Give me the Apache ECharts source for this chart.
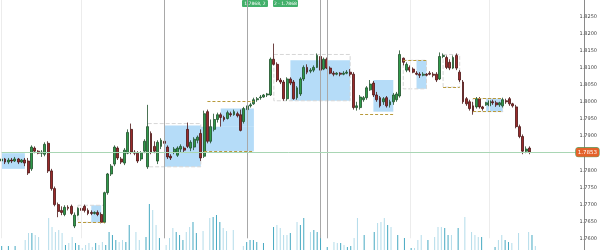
<!DOCTYPE html>
<html><head><meta charset="utf-8">
<script src="https://cdn.jsdelivr.net/npm/echarts@6/dist/echarts.min.js"></script>
<style>html,body{margin:0;padding:0;background:#fff}#c{width:600px;height:250px}</style>
</head><body><div id="c"></div>
<script>
const openP = [1.7827,1.7833,1.7824,1.7830,1.7827,1.7833,1.7824,1.7830,1.7827,1.7804,1.7865,1.7856,1.7850,1.7847,1.7879,1.7798,1.7746,1.7699,1.7682,1.7670,
1.7691,1.7694,1.7636,1.7668,1.7688,1.7694,1.7682,1.7676,1.7673,1.7676,1.7670,1.7647,1.7734,1.7789,1.7818,1.7865,1.7833,1.7821,1.7850,1.7920,
1.7853,1.7850,1.7833,1.7856,1.7810,1.7908,1.7870,1.7827,1.7870,1.7885,1.7868,1.7841,1.7853,1.7844,1.7862,1.7865,1.7920,1.7865,1.7868,1.7888,
1.7908,1.7841,1.7972,1.7885,1.7920,1.7949,1.7963,1.7955,1.7952,1.7966,1.7963,1.7966,1.7963,1.7943,1.7978,1.7989,1.7995,1.8007,1.8013,1.8015,
1.8021,1.8021,1.8126,1.8111,1.8065,1.8059,1.8010,1.8068,1.8059,1.8013,1.8024,1.8068,1.8102,1.8091,1.8094,1.8102,1.8134,1.8097,1.8126,1.8100,
1.8085,1.8082,1.8085,1.8082,1.8085,1.8088,1.8082,1.7984,1.7984,1.8007,1.8013,1.8036,1.8056,1.8021,1.8013,1.8001,1.8013,1.7992,1.8001,1.8007,
1.8018,1.8129,1.8094,1.8102,1.8097,1.8085,1.8082,1.8079,1.8082,1.8085,1.8082,1.8082,1.8068,1.8134,1.8131,1.8117,1.8100,1.8137,1.8088,1.8059,
1.8010,1.8001,1.7989,1.7986,1.8010,1.7986,1.7992,1.7989,1.8001,1.7998,1.7992,1.7989,1.8004,1.8010,1.7995,1.7986,1.7928,1.7899,1.7856,1.7865];
const closeP = [1.7833,1.7824,1.7830,1.7827,1.7833,1.7824,1.7830,1.7821,1.7792,1.7868,1.7856,1.7850,1.7853,1.7876,1.7798,1.7746,1.7699,1.7679,1.7676,1.7691,
1.7688,1.7673,1.7668,1.7688,1.7682,1.7682,1.7673,1.7673,1.7676,1.7670,1.7647,1.7734,1.7789,1.7812,1.7868,1.7836,1.7824,1.7859,1.7911,1.7853,
1.7850,1.7827,1.7850,1.7885,1.7928,1.7853,1.7856,1.7882,1.7888,1.7879,1.7839,1.7836,1.7862,1.7865,1.7870,1.7859,1.7870,1.7882,1.7891,1.7897,
1.7836,1.7966,1.7885,1.7928,1.7949,1.7963,1.7955,1.7949,1.7969,1.7963,1.7972,1.7960,1.7917,1.7981,1.7989,1.7992,1.8007,1.8010,1.8015,1.8021,
1.8024,1.8126,1.8111,1.8065,1.8059,1.8010,1.8068,1.8056,1.8010,1.8042,1.8068,1.8102,1.8088,1.8094,1.8102,1.8137,1.8094,1.8126,1.8100,1.8085,
1.8082,1.8085,1.8082,1.8085,1.8088,1.8082,1.7984,1.7989,1.8015,1.8013,1.8042,1.8053,1.8021,1.8007,1.7989,1.8010,1.7989,1.8001,1.8021,1.8024,
1.8140,1.8117,1.8111,1.8094,1.8088,1.8082,1.8079,1.8082,1.8079,1.8082,1.8079,1.8065,1.8134,1.8137,1.8102,1.8100,1.8131,1.8100,1.8065,1.8001,
1.7995,1.7981,1.7972,1.8010,1.7986,1.7981,1.7998,1.8004,1.7998,1.7992,1.7998,1.8007,1.8001,1.7995,1.7989,1.7928,1.7899,1.7856,1.7862,1.7853];
const lowP = [1.7821,1.7818,1.7818,1.7821,1.7824,1.7818,1.7821,1.7812,1.7786,1.7798,1.7850,1.7847,1.7839,1.7841,1.7792,1.7740,1.7694,1.7662,1.7668,1.7665,
1.7682,1.7668,1.7630,1.7665,1.7676,1.7676,1.7668,1.7668,1.7670,1.7665,1.7644,1.7644,1.7728,1.7783,1.7812,1.7830,1.7818,1.7815,1.7847,1.7847,
1.7844,1.7821,1.7827,1.7850,1.7804,1.7847,1.7850,1.7818,1.7862,1.7873,1.7833,1.7830,1.7847,1.7839,1.7853,1.7853,1.7865,1.7856,1.7859,1.7879,
1.7827,1.7836,1.7879,1.7879,1.7914,1.7940,1.7928,1.7943,1.7949,1.7957,1.7960,1.7955,1.7914,1.7937,1.7972,1.7984,1.7992,1.8001,1.8007,1.8013,
1.8015,1.8018,1.8108,1.8059,1.8053,1.8004,1.8004,1.8050,1.8007,1.8007,1.8018,1.8062,1.8082,1.8085,1.8088,1.8100,1.8091,1.8094,1.8097,1.8082,
1.8076,1.8079,1.8076,1.8079,1.8082,1.8076,1.7978,1.7975,1.7978,1.8001,1.8007,1.8033,1.8015,1.8001,1.7984,1.7992,1.7984,1.7984,1.7992,1.8001,
1.8013,1.8108,1.8088,1.8088,1.8085,1.8079,1.8071,1.8076,1.8076,1.8079,1.8073,1.8059,1.8065,1.8129,1.8097,1.8094,1.8097,1.8094,1.8059,1.7995,
1.7989,1.7975,1.7963,1.7981,1.7981,1.7975,1.7989,1.7986,1.7992,1.7986,1.7986,1.7984,1.7995,1.7989,1.7984,1.7923,1.7894,1.7847,1.7850,1.7847];
const highP = [1.7839,1.7836,1.7836,1.7836,1.7839,1.7836,1.7833,1.7836,1.7836,1.7873,1.7870,1.7859,1.7859,1.7882,1.7885,1.7804,1.7752,1.7705,1.7694,1.7697,
1.7697,1.7699,1.7676,1.7691,1.7697,1.7699,1.7688,1.7682,1.7679,1.7682,1.7676,1.7737,1.7792,1.7818,1.7873,1.7870,1.7839,1.7865,1.7920,1.7937,
1.7859,1.7856,1.7856,1.7891,1.7992,1.7914,1.7885,1.7888,1.7894,1.7891,1.7873,1.7847,1.7868,1.7870,1.7876,1.7870,1.7940,1.7888,1.7897,1.7902,
1.7920,1.7975,1.7978,1.7949,1.7966,1.7969,1.7969,1.7960,1.7975,1.7972,1.7978,1.7972,1.7978,1.7986,1.7995,1.7998,1.8013,1.8015,1.8021,1.8024,
1.8027,1.8131,1.8172,1.8117,1.8071,1.8065,1.8073,1.8073,1.8065,1.8047,1.8073,1.8108,1.8111,1.8100,1.8108,1.8143,1.8140,1.8131,1.8131,1.8105,
1.8091,1.8088,1.8088,1.8091,1.8094,1.8097,1.8088,1.8001,1.8021,1.8018,1.8047,1.8065,1.8062,1.8030,1.8018,1.8015,1.8018,1.8007,1.8027,1.8030,
1.8152,1.8131,1.8117,1.8108,1.8102,1.8091,1.8088,1.8088,1.8085,1.8091,1.8088,1.8088,1.8146,1.8143,1.8137,1.8126,1.8137,1.8143,1.8094,1.8065,
1.8015,1.8007,1.8001,1.8015,1.8015,1.7989,1.8001,1.8010,1.8007,1.8004,1.8001,1.8013,1.8010,1.8015,1.7998,1.7992,1.7934,1.7905,1.7870,1.7870];
const volume = [80,0,80,0,80,0,0,200,340,340,300,260,0,0,640,460,360,400,340,100,
140,260,140,100,40,100,140,60,140,100,160,100,360,300,200,160,200,160,500,0,
360,200,0,260,920,800,500,240,0,100,240,440,360,300,200,360,460,560,340,0,
380,0,640,660,700,560,440,380,0,400,0,0,80,160,200,200,160,0,140,0,
0,460,500,440,300,300,340,0,560,500,640,0,360,400,360,300,0,60,0,160,
140,140,100,60,80,240,640,0,300,0,0,360,540,560,640,500,460,0,300,0,
240,0,40,40,200,300,0,200,0,260,460,460,440,300,300,0,440,0,660,0,
360,300,260,260,0,0,0,60,200,300,200,160,140,0,340,0,0,360,300,80];
const totalSlots = 174;
const priceTicks = {min: 1.760, max: 1.830, step: 0.005};
// annotation zones: [fromIndex, toIndex, upperPrice, lowerPrice]
const blueZones = [[0,7,1.7850,1.7804],[27,30,1.7697,1.7647],[49,60,1.7931,1.7810],[60,76,1.7928,1.7856],[66,76,1.7981,1.7928],
  [87,105,1.8123,1.8004],[112,118,1.8065,1.7972],[125,128,1.8123,1.8039],[146,151,1.8010,1.7972]];
const outlineZones = [[23,31,1.7697,1.7647],[44,60,1.7937,1.7810],[82,105,1.8140,1.8004],[121,128,1.8123,1.8039],[133,138,1.8140,1.8044],[142,151,1.8010,1.7972]];
const levelLines = [[23,31,1.7647],[62,76,1.8004],[61,76,1.7856],[108,118,1.7963],[121,128,1.8123],[133,138,1.8044],[142,151,1.8010],[142,151,1.7972]];
const sessionLines = [49,74,96,98];
const gridLines = [0,24,123,147];
const topTags = ['1.7868, 2', '2 \u00b7 1.7868'];

const cats = Array.from({length: totalSlots}, (_, i) => String(i));
const candles = openP.map((o, i) => [o, closeP[i], lowP[i], highP[i]]);
const lastClose = closeP[closeP.length - 1];
const volData = volume.map((v, i) => ({value: v, itemStyle: {color: closeP[i] >= openP[i] ? '#46a9c2' : '#b3dcea'}}));

const chart = echarts.init(document.getElementById('c'), null, {renderer: 'canvas'});
const markAreaData = [];
blueZones.forEach(z => markAreaData.push([{xAxis: z[0], yAxis: z[2], itemStyle: {color: 'rgba(150,205,245,0.7)'}}, {xAxis: z[1], yAxis: z[3]}]));
outlineZones.forEach(z => markAreaData.push([{xAxis: z[0], yAxis: z[2], itemStyle: {color: 'rgba(0,0,0,0)', borderColor: '#d6d6d6', borderWidth: 1, borderType: 'dashed'}}, {xAxis: z[1], yAxis: z[3]}]));
const markLineData = [];
gridLines.forEach(i => markLineData.push({xAxis: i, lineStyle: {color: '#ececec', width: 1, type: 'solid'}, label: {show: false}}));
sessionLines.forEach(i => markLineData.push({xAxis: i, lineStyle: {color: '#a8a8a8', width: 1, type: 'solid'}, label: {show: false}}));
levelLines.forEach(l => markLineData.push([{coord: [l[0], l[2]], lineStyle: {color: '#b89a3c', width: 1, type: [3, 2]}, label: {show: false}}, {coord: [l[1], l[2]]}]));
markLineData.push([{coord: [0, lastClose], lineStyle: {color: '#a9d6b4', width: 1, type: 'solid'},
  label: {show: true, position: 'end', distance: 0, formatter: lastClose.toFixed(4), color: '#fff', fontSize: 5.5,
    fontFamily: 'DejaVu Sans', backgroundColor: '#e4622a', borderColor: '#3f9f5c', borderWidth: 0.5, padding: [1.5, 2], borderRadius: 2}},
  {coord: [totalSlots - 1, lastClose]}]);

chart.setOption({
  animation: false,
  backgroundColor: '#fff',
  grid: [
    {left: 0, right: 16, top: -3.1, height: 241.4},
    {left: 0, right: 16, bottom: 0, height: 50}
  ],
  xAxis: [
    {type: 'category', data: cats, gridIndex: 0, boundaryGap: true, axisLine: {show: false}, axisTick: {show: false}, axisLabel: {show: false}, splitLine: {show: false}},
    {type: 'category', data: cats, gridIndex: 1, boundaryGap: true, axisLine: {show: false}, axisTick: {show: false}, axisLabel: {show: false}, splitLine: {show: false}}
  ],
  yAxis: [
    {type: 'value', gridIndex: 0, position: 'right', min: priceTicks.min, max: priceTicks.max, interval: priceTicks.step,
      axisLine: {show: false}, axisTick: {show: false}, splitLine: {show: false},
      axisLabel: {show: true, margin: 2, fontSize: 5, color: '#444', fontFamily: 'DejaVu Sans', showMinLabel: true, showMaxLabel: false,
        formatter: v => Math.abs(v - 1.785) < 1e-6 ? '' : v.toFixed(4)}},
    {type: 'value', gridIndex: 1, min: 0, max: 1000, show: false}
  ],
  series: [
    {type: 'bar', xAxisIndex: 1, yAxisIndex: 1, data: volData, barWidth: 1, silent: true},
    {type: 'candlestick', xAxisIndex: 0, yAxisIndex: 0, data: candles, barWidth: 2.4,
      itemStyle: {color: '#2f9a4a', color0: '#9a2b2b', borderColor: '#1e4f2a', borderColor0: '#4a1414', borderWidth: 0.8},
      markArea: {silent: true, data: markAreaData, z: -1},
      markLine: {silent: true, symbol: ['none', 'none'], data: markLineData}
    }
  ],
  graphic: [
    {type: 'line', shape: {x1: 584.5, y1: 0, x2: 584.5, y2: 250}, style: {stroke: '#8a8a8a', lineWidth: 1}, silent: true},
    {type: 'group', left: 242, top: 0, children: [
      {type: 'rect', shape: {x: 0, y: 0, width: 26, height: 7, r: 1}, style: {fill: '#43b06b'}},
      {type: 'text', x: 13, y: 1, style: {text: topTags[0], fill: '#fff', fontSize: 4.5, fontFamily: 'DejaVu Sans', textAlign: 'center'}}
    ]},
    {type: 'group', left: 273, top: 0, children: [
      {type: 'rect', shape: {x: 0, y: 0, width: 25, height: 7, r: 1}, style: {fill: '#43b06b'}},
      {type: 'text', x: 12.5, y: 1, style: {text: topTags[1], fill: '#fff', fontSize: 4.5, fontFamily: 'DejaVu Sans', textAlign: 'center'}}
    ]}
  ]
});
</script></body></html>
